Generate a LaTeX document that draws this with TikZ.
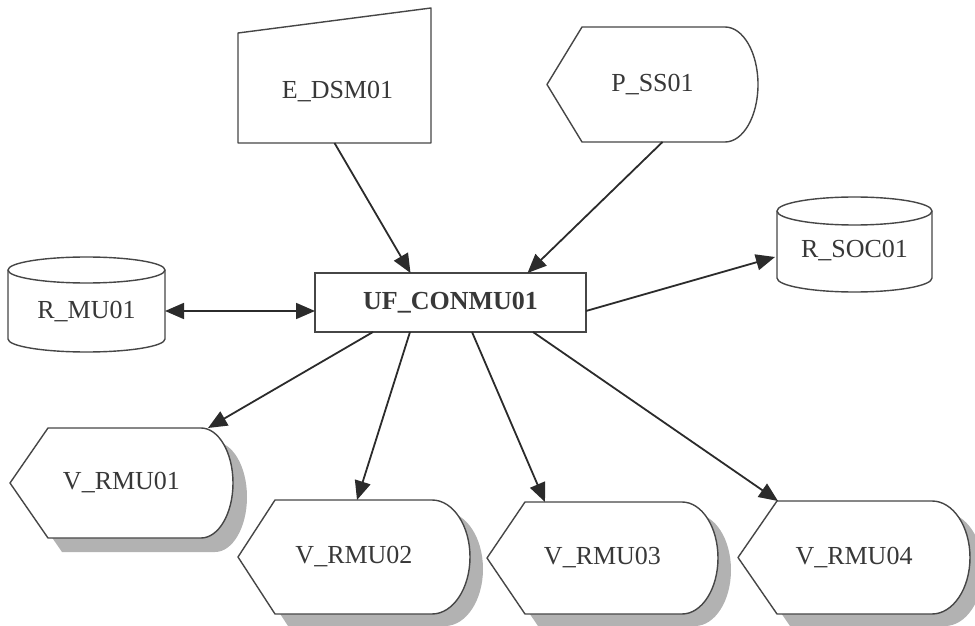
\documentclass[tikz,border=0pt]{standalone}
\usepackage{fontspec}
\setmainfont{Liberation Serif}
\usetikzlibrary{arrows.meta,backgrounds}
\definecolor{ink}{HTML}{2B2B2B}
\definecolor{txtcol}{HTML}{383838}
\definecolor{outline}{HTML}{464646}
\definecolor{shadowgray}{HTML}{B2B2B2}
% display shape centred at origin: width, height, left cut, right bulge
\newcommand\dispPath[4]{({-#1/2},0) -- ({-#1/2+#3},{#2/2}) -- ({#1/2-#4},{#2/2})
  .. controls ({#1/2-0.448*#4},{#2/2}) and ({#1/2},{0.552*#2/2}) .. ({#1/2},0)
  .. controls ({#1/2},{-0.552*#2/2}) and ({#1/2-0.448*#4},{-#2/2}) .. ({#1/2-#4},{-#2/2})
  -- ({-#1/2+#3},{-#2/2}) -- cycle}
\newcommand\cylPath[3]{({-#1/2},{#2/2-#3}) -- ({-#1/2},{-#2/2+#3})
  arc[start angle=180,end angle=360,x radius={#1/2},y radius=#3] -- ({#1/2},{#2/2-#3})
  arc[start angle=0,end angle=180,x radius={#1/2},y radius=#3] -- cycle}
\begin{document}
\begin{tikzpicture}[x=1pt,y=1pt,
  every node/.style={font=\fontsize{26}{30}\selectfont, text=txtcol},
  box/.style={inner sep=0pt, outer sep=0pt},
  shp/.style={line width=1.4pt, draw=outline, fill=white, line join=round},
  shd/.style={fill=shadowgray},
  conn/.style={line width=1.8pt, draw=ink, -{Triangle[length=19pt,width=16pt]}},
  biconn/.style={line width=1.8pt, draw=ink, {Triangle[length=19pt,width=16pt]}-{Triangle[length=19pt,width=16pt]}}]
\useasboundingbox (0,0) rectangle (975,625);

% nodes
\node[box, minimum width=271pt, minimum height=59pt, draw=outline, line width=1.4pt, fill=white,
      font={\fontsize{26}{30}\selectfont\bfseries}] (uf) at (450.5,322.5) {UF\_CONMU01};
\node[box, minimum width=193pt, minimum height=135pt] (dsm) at (334.5,549.5) {};
\node[box] (dsmtext) at ([xshift=3pt,yshift=-16pt]dsm.center) {E\_DSM01};
\node[box, minimum width=211pt, minimum height=115pt] (ss) at (652.5,540.5) {P\_SS01};
\node[box, minimum width=157pt, minimum height=95pt] (mu) at (86.5,320.5) {};
\node[box] (mutext) at ([yshift=-7pt]mu.center) {R\_MU01};
\node[box, minimum width=155pt, minimum height=95pt] (soc) at (854.5,380.5) {};
\node[box] (soctext) at ([yshift=-6pt]soc.center) {R\_SOC01};
\node[box, minimum width=223pt, minimum height=110pt] (v1) at (121.5,142) {V\_RMU01};
\node[box, minimum width=232pt, minimum height=114pt] (v2) at (354,68) {V\_RMU02};
\node[box, minimum width=231pt, minimum height=112pt] (v3) at (602.5,67) {V\_RMU03};
\node[box, minimum width=232pt, minimum height=113pt] (v4) at (854,67.5) {V\_RMU04};

% shapes behind the texts
\begin{scope}[on background layer]
  \begin{scope}[shift={(dsm.center)}]
    \draw[shp] (-96.5,-67.5) -- (96.5,-67.5) -- (96.5,67.5) -- (-96.5,42.5) -- cycle;
  \end{scope}
  \begin{scope}[shift={(ss.center)}]
    \draw[shp] \dispPath{211}{115}{35}{33};
  \end{scope}
  \begin{scope}[shift={(mu.center)}]
    \draw[shp] \cylPath{157}{95}{13};
    \draw[shp, fill=none] (-78.5,34.5) arc[start angle=180,end angle=360,x radius=78.5,y radius=13];
  \end{scope}
  \begin{scope}[shift={(soc.center)}]
    \draw[shp] \cylPath{155}{95}{14};
    \draw[shp, fill=none] (-77.5,33.5) arc[start angle=180,end angle=360,x radius=77.5,y radius=14];
  \end{scope}
  \begin{scope}[shift={(v1.center)}]
    \fill[shd, xshift=14pt, yshift=-14pt] \dispPath{223}{110}{38}{32};
    \draw[shp] \dispPath{223}{110}{38}{32};
  \end{scope}
  \begin{scope}[shift={(v2.center)}]
    \fill[shd, xshift=13pt, yshift=-12pt] \dispPath{232}{114}{37}{38};
    \draw[shp] \dispPath{232}{114}{37}{38};
  \end{scope}
  \begin{scope}[shift={(v3.center)}]
    \fill[shd, xshift=13pt, yshift=-12pt] \dispPath{231}{112}{38}{36};
    \draw[shp] \dispPath{231}{112}{38}{36};
  \end{scope}
  \begin{scope}[shift={(v4.center)}]
    \fill[shd, xshift=13pt, yshift=-12pt] \dispPath{232}{113}{39}{38};
    \draw[shp] \dispPath{232}{113}{39}{38};
  \end{scope}
\end{scope}

% connectors
\draw[conn] (dsm.south) -- ([xshift=-40pt]uf.north);
\draw[conn] ([xshift=10pt]ss.south) -- ([xshift=77pt]uf.north);
\draw[biconn] ([yshift=-6.5pt]mu.east) -- ([yshift=-8.5pt]uf.west);
\draw[conn] ([yshift=-8.5pt]uf.east) -- ([xshift=-2pt,yshift=-12.5pt]soc.west);
\draw[conn] ([xshift=-77.5pt]uf.south) -- ([xshift=86.5pt]v1.north);
\draw[conn] ([xshift=-40.5pt]uf.south) -- ([xshift=3pt]v2.north);
\draw[conn] ([xshift=21.5pt]uf.south) -- ([xshift=-57.5pt]v3.north);
\draw[conn] ([xshift=82.5pt]uf.south) -- ([xshift=-76pt]v4.north);
\end{tikzpicture}
\end{document}
